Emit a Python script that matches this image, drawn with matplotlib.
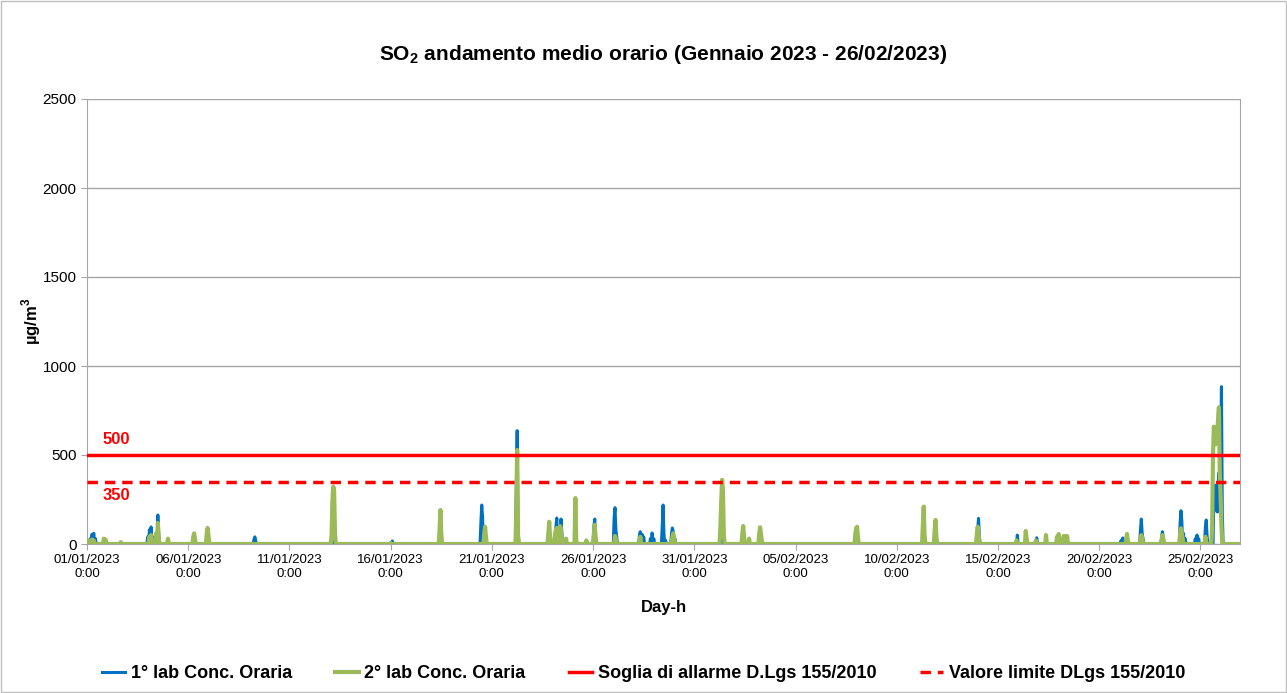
import numpy as np
import matplotlib
matplotlib.use("Agg")
import matplotlib.pyplot as plt
from matplotlib.patches import Rectangle

plt.rcParams['font.family'] = ['Liberation Sans', 'DejaVu Sans']
plt.rcParams['mathtext.fontset'] = 'custom'
plt.rcParams['mathtext.bf'] = 'Liberation Sans:bold'
plt.rcParams['mathtext.rm'] = 'Liberation Sans'

# hourly data from 01/01/2023 0:00 to 26/02/2023 23:00 (index = hours since start)
n_hours = 57 * 24

# 1° lab: hours with non-zero concentration and their values (µg/m³)
lab1_hours = [4, 6, 8, 10, 20, 22, 72, 74, 76, 78, 84, 85, 96, 126, 143, 145, 198, 199, 200,
              291, 292, 362, 419, 467, 468, 469, 472, 509, 510, 511, 548, 556, 557, 559, 562,
              563, 579, 601, 602, 603, 625, 626, 627, 628, 655, 656, 658, 660, 668, 670, 672,
              682, 683, 684, 686, 693, 694, 695, 697, 752, 753, 754, 779, 797, 913, 1006,
              1056, 1057, 1058, 1103, 1126, 1152, 1160, 1226, 1228, 1230, 1249, 1250, 1251,
              1252, 1274, 1275, 1276, 1296, 1297, 1298, 1300, 1302, 1314, 1316, 1318, 1326,
              1327, 1328, 1336, 1337, 1338, 1339, 1340, 1341, 1342, 1343, 1344, 1345, 1346]
lab1_vals = [30, 55, 60, 30, 20, 15, 40, 80, 96, 40, 163, 60, 15, 20, 20, 10, 25, 40, 20,
             118, 40, 17, 50, 120, 219, 150, 60, 300, 637, 100, 40, 100, 146, 60, 140,
             60, 80, 100, 140, 40, 150, 204, 80, 40, 50, 69, 55, 40, 30, 62, 30,
             100, 219, 60, 20, 60, 90, 70, 30, 80, 174, 100, 40, 40, 30, 25,
             80, 144, 40, 50, 35, 30, 20, 20, 34, 20, 80, 140, 60,
             30, 40, 69, 40, 120, 187, 130, 60, 30, 30, 50, 30, 100,
             135, 40, 250, 330, 330, 200, 180, 300, 400, 180, 500, 884, 180]

# 2° lab
lab2_hours = [2, 6, 8, 20, 22, 40, 74, 76, 82, 84, 85, 96, 126, 127, 128, 142, 143, 144,
              290, 291, 292, 293, 294, 360, 418, 419, 420, 471, 472, 473, 509, 510, 511,
              547, 548, 549, 555, 556, 557, 560, 561, 562, 563, 568, 579, 580, 592, 601,
              602, 603, 626, 627, 656, 694, 695, 696, 751, 752, 753, 754, 755, 777, 778,
              779, 785, 797, 798, 799, 800, 911, 912, 913, 914, 991, 992, 993, 1005, 1006,
              1007, 1055, 1056, 1057, 1102, 1113, 1114, 1125, 1137, 1150, 1152, 1154, 1158,
              1160, 1162, 1232, 1233, 1234, 1249, 1250, 1251, 1275, 1276, 1296, 1297, 1298,
              1299, 1326, 1334, 1335, 1336, 1337, 1338, 1339, 1340, 1341, 1342, 1343, 1344,
              1345]
lab2_vals = [20, 25, 20, 30, 25, 10, 40, 50, 60, 118, 40, 30, 40, 60, 30, 60, 90, 50,
             50, 250, 322, 300, 60, 5, 80, 191, 60, 60, 97, 40, 200, 528, 50,
             60, 125, 40, 60, 80, 90, 60, 100, 80, 20, 30, 258, 20, 20, 60,
             108, 30, 45, 30, 40, 40, 60, 40, 100, 250, 360, 300, 50, 60, 101,
             40, 30, 60, 94, 60, 20, 60, 90, 97, 40, 100, 210, 50, 80, 135,
             40, 60, 97, 60, 20, 73, 30, 20, 50, 40, 56, 20, 45,
             45, 45, 30, 56, 20, 30, 50, 30, 50, 30, 60, 88, 60,
             30, 40, 100, 500, 659, 600, 560, 617, 620, 700, 768, 400, 275,
             100]

soglia_allarme = 500
valore_limite = 350

xtick_labels = ["01/01/2023", "06/01/2023", "11/01/2023", "16/01/2023", "21/01/2023",
                "26/01/2023", "31/01/2023", "05/02/2023", "10/02/2023", "15/02/2023",
                "20/02/2023", "25/02/2023"]

lab1 = np.zeros(n_hours)
lab1[lab1_hours] = lab1_vals
lab2 = np.zeros(n_hours)
lab2[lab2_hours] = lab2_vals
x = np.arange(n_hours)

fig = plt.figure(figsize=(12.87, 6.93), dpi=100)
ax = fig.add_axes([87 / 1287, 1 - 544 / 693, (1240 - 87) / 1287, (544 - 99) / 693])
fig.patches.append(Rectangle((0.001, 0.001), 0.998, 0.997, transform=fig.transFigure,
                             fill=False, edgecolor='#bfbfbf', linewidth=1))

ax.plot(x, lab1, color='#0070c0', linewidth=2.2, label='1° lab Conc. Oraria', zorder=3)
ax.plot(x, lab2, color='#9bbb59', linewidth=3.0, label='2° lab Conc. Oraria', zorder=4)
ax.axhline(soglia_allarme, color='#ff0000', linewidth=2.5,
           label='Soglia di allarme D.Lgs 155/2010', zorder=5)
ax.axhline(valore_limite, color='#ff0000', linewidth=2.5, linestyle=(0, (3, 2)),
           label='Valore limite DLgs 155/2010', zorder=5)

ax.text(18, 545, '500', color='#ff0000', fontsize=12, fontweight='bold', va='bottom')
ax.text(18, 315, '350', color='#ff0000', fontsize=12, fontweight='bold', va='top')

ax.set_xlim(0, n_hours - 1)
ax.set_ylim(0, 2500)
ax.set_yticks(np.arange(0, 2501, 500))
ax.set_xticks(np.arange(0, n_hours, 120))
ax.set_xticklabels([d + "\n0:00" for d in xtick_labels], fontsize=9.5)
ax.tick_params(axis='y', labelsize=11, length=4, color='#a6a6a6')
ax.tick_params(axis='x', length=4, color='#a6a6a6')
ax.grid(axis='y', color='#a6a6a6', linewidth=1)
ax.set_axisbelow(True)
for s in ['left', 'bottom', 'right', 'top']:
    ax.spines[s].set_color('#a6a6a6')
ax.spines['top'].set_visible(False)

ax.set_title(r'SO$_\mathbf{2}$ andamento medio orario (Gennaio 2023 - 26/02/2023)',
             fontsize=15, fontweight='bold', pad=28)
ax.set_ylabel(r'µg/m$^\mathbf{3}$', fontsize=12, fontweight='bold', labelpad=0)
ax.set_xlabel('Day-h', fontsize=12, fontweight='bold', labelpad=14)

fig.legend(loc='lower center', bbox_to_anchor=(0.5, -0.008), ncol=4, frameon=False,
           handlelength=1.3, handletextpad=0.3, columnspacing=2.4,
           prop={'weight': 'bold', 'size': 13})

fig.savefig('out.png', dpi=100)
